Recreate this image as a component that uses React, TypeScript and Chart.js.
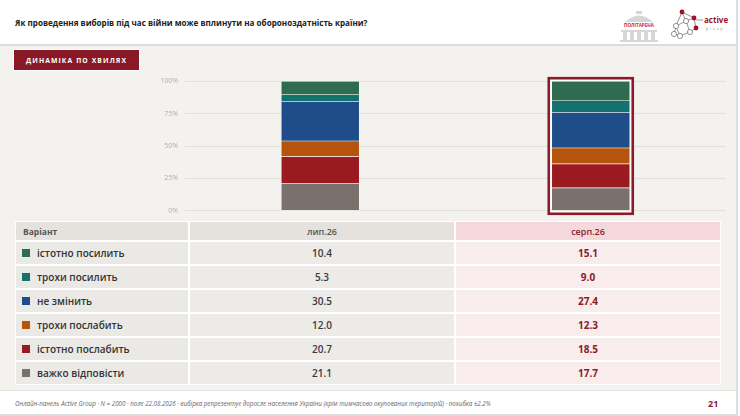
import { useEffect, useRef } from "react";
import { Chart, registerables, type Plugin } from "chart.js";

Chart.register(...registerables);

// Waves (columns) and answer options (rows)
const WAVES = ["лип.26", "серп.26"];
const OPTIONS = [
  "істотно посилить",
  "трохи посилить",
  "не змінить",
  "трохи послабить",
  "істотно послабить",
  "важко відповісти",
];
const JUL_26 = [10.4, 5.3, 30.5, 12.0, 20.7, 21.1];
const AUG_26 = [15.1, 9.0, 27.4, 12.3, 18.5, 17.7];
const OPTION_COLORS = ["#2e6b4f", "#137270", "#1f4d8a", "#b4540d", "#9a1a1f", "#7a716c"];
const Y_TICKS = [0, 25, 50, 75, 100];
const HIGHLIGHT_WAVE = 1;

const WINE = "#8b1a2b";
const FONT = "'Open Sans', 'DejaVu Sans', sans-serif";

function StackChart() {
  const canvasRef = useRef<HTMLCanvasElement>(null);

  useEffect(() => {
    const ctx = canvasRef.current?.getContext("2d");
    if (!ctx) return;

    // bottom of the stack is the last option
    const order = OPTIONS.map((_, i) => i).reverse();
    const datasets = order.map(i => ({
      label: OPTIONS[i],
      data: [JUL_26[i], AUG_26[i]],
      backgroundColor: OPTION_COLORS[i],
      borderColor: "rgba(255,255,255,0.45)",
      borderWidth: 0.6,
      borderSkipped: false as const,
      barThickness: 78,
    }));

    // frame around the current wave
    const highlight: Plugin<"bar"> = {
      id: "highlight",
      afterDatasetsDraw(chart) {
        const { ctx, scales } = chart;
        const bar = chart.getDatasetMeta(0).data[HIGHLIGHT_WAVE] as any;
        if (!bar) return;
        const half = bar.width / 2;
        const top = scales.y.getPixelForValue(100);
        const bottom = scales.y.getPixelForValue(0);
        ctx.save();
        ctx.strokeStyle = "#ffffff";
        ctx.lineWidth = 1.5;
        ctx.strokeRect(bar.x - half - 1, top - 1, bar.width + 2, bottom - top + 2);
        ctx.strokeStyle = WINE;
        ctx.lineWidth = 2.6;
        ctx.strokeRect(bar.x - half - 3, top - 3, bar.width + 6, bottom - top + 6);
        ctx.restore();
      },
    };

    const chart = new Chart(ctx, {
      type: "bar",
      data: { labels: WAVES, datasets },
      options: {
        responsive: false,
        animation: false,
        layout: { padding: { top: 9, right: 14, bottom: 6, left: 0 } },
        scales: {
          x: { stacked: true, display: false },
          y: {
            stacked: true,
            min: 0,
            max: 100,
            afterFit: s => { s.width = 45; },
            afterBuildTicks: s => { s.ticks = Y_TICKS.map(v => ({ value: v })); },
            border: { display: false },
            grid: { color: "#e3e0db", lineWidth: 1, drawTicks: false },
            ticks: {
              color: "#b3ada8",
              padding: 7,
              font: { family: "'Open Sans', sans-serif", size: 7 },
              callback: v => `${v}%`,
            },
          },
        },
        plugins: { legend: { display: false }, tooltip: { enabled: false } },
      },
      plugins: [highlight],
    });

    return () => chart.destroy();
  }, []);

  return (
    <div style={{ position: "absolute", left: 140, top: 70, width: 600, height: 152 }}>
      <canvas ref={canvasRef} width={600} height={152} style={{ width: 600, height: 152, display: "block" }} />
    </div>
  );
}

function PolitArenaLogo() {
  return (
    <svg style={{ position: "absolute", left: 615, top: 9 }} width={48} height={34} viewBox="0 0 48 34">
      <path d="M10 13 Q24 0 38 13 Z" fill="#d6d6d6" />
      <rect x="21" y="2" width="6" height="3" fill="#d6d6d6" />
      <text x="24" y="18" textAnchor="middle" fontSize="4.6" fontFamily={FONT} fontWeight={700} fill="#d3263d">ПОЛІТАРЕНА</text>
      <rect x="6" y="21" width="36" height="2" fill="#d6d6d6" />
      {[8, 15, 22, 29, 36].map(x => (
        <rect key={x} x={x} y={23} width={4} height={8} fill="#d6d6d6" />
      ))}
      <rect x="5" y="31" width="38" height="2" fill="#d6d6d6" />
    </svg>
  );
}

function ActiveLogo() {
  const nodes = [[12, 4], [6, 18], [16, 13], [24, 10], [10, 28], [20, 24], [26, 20], [4, 26]];
  const edges = [[0, 3], [0, 1], [0, 2], [1, 2], [2, 3], [2, 5], [1, 4], [4, 5], [5, 6], [3, 6], [1, 7], [7, 4]];
  const red = [0, 3, 6];
  return (
    <svg style={{ position: "absolute", left: 670, top: 8, }} width={62} height={36} viewBox="0 0 62 36">
      {edges.map(([a, b], i) => (
        <line key={i} x1={nodes[a][0]} y1={nodes[a][1]} x2={nodes[b][0]} y2={nodes[b][1]} stroke="#666" strokeWidth={0.7} />
      ))}
      {nodes.map(([x, y], i) => (
        red.includes(i)
          ? <circle key={i} cx={x} cy={y} r={2.4} fill="#9b1225" />
          : <circle key={i} cx={x} cy={y} r={2.6} fill="#fff" stroke="#666" strokeWidth={0.7} />
      ))}
      <line x1={26} y1={12} x2={33} y2={12} stroke="#666" strokeWidth={0.7} />
      <text x="34" y="15" fontSize="8" fontFamily={FONT} fontWeight={700} fill="#9b1225">active</text>
      <text x="36" y="22" fontSize="3.4" letterSpacing="1.8" fontFamily={FONT} fill="#888">group</text>
    </svg>
  );
}

function WaveTable() {
  const cell = (bg: string, extra: React.CSSProperties = {}): React.CSSProperties => ({
    background: bg,
    display: "flex",
    alignItems: "center",
    justifyContent: "center",
    fontFamily: FONT,
    ...extra,
  });
  return (
    <div
      style={{
        position: "absolute", left: 15, top: 221, width: 706, height: 164,
        boxSizing: "border-box", padding: 1, background: "#ffffff",
        display: "grid", gridTemplateColumns: "172px 264px 264px",
        gridTemplateRows: "18px repeat(6, 22px)", gap: 2,
      }}
    >
      <div style={cell("#e5e2de", { justifyContent: "flex-start", paddingLeft: 7, fontSize: 8.5, fontWeight: 700, color: "#555" })}>Варіант</div>
      <div style={cell("#e5e2de", { fontSize: 9, fontWeight: 600, color: "#555" })}>{WAVES[0]}</div>
      <div style={cell("#f5d8dc", { fontSize: 9, fontWeight: 600, color: WINE })}>{WAVES[1]}</div>
      {OPTIONS.map((label, i) => [
        <div key={`l${i}`} style={cell("#ebe9e5", { justifyContent: "flex-start", paddingLeft: 6, fontSize: 10, fontWeight: 600, color: "#333" })}>
          <span style={{ width: 8, height: 8, background: OPTION_COLORS[i], marginRight: 7, display: "inline-block" }} />
          {label}
        </div>,
        <div key={`a${i}`} style={cell("#ecebe7", { fontSize: 10, fontWeight: 600, color: "#3a3a3a" })}>{JUL_26[i].toFixed(1)}</div>,
        <div key={`b${i}`} style={cell("#f9eced", { fontSize: 10, fontWeight: 700, color: WINE })}>{AUG_26[i].toFixed(1)}</div>,
      ])}
    </div>
  );
}

export default function App() {
  return (
    <div style={{ position: "fixed", left: 0, top: 0, width: 740, height: 416, background: "#ffffff", overflow: "hidden", fontFamily: FONT }}>
      {/* header */}
      <div style={{ position: "absolute", left: 15, top: 17, fontSize: 8.1, fontWeight: 700, color: "#222", whiteSpace: "nowrap" }}>
        Як проведення виборів під час війни може вплинути на обороноздатність країни?
      </div>
      <PolitArenaLogo />
      <ActiveLogo />
      <div style={{ position: "absolute", left: 0, top: 44, width: 737, height: 1.5, background: "#dcdcdc" }} />

      {/* body */}
      <div style={{ position: "absolute", left: 0, top: 45.5, width: 736, height: 344, background: "#f4f2ee" }} />
      <div
        style={{
          position: "absolute", left: 14, top: 50, width: 125, height: 20, background: "#8a1928",
          color: "#fff", fontSize: 6.8, fontWeight: 700, letterSpacing: 1.1,
          display: "flex", alignItems: "center", justifyContent: "center",
          boxShadow: "0 0 0 1px #fff",
        }}
      >
        ДИНАМІКА ПО ХВИЛЯХ
      </div>
      <StackChart />
      <WaveTable />

      {/* footer */}
      <div style={{ position: "absolute", left: 0, top: 389.5, width: 737, height: 1.5, background: "#e4e2de" }} />
      <div style={{ position: "absolute", left: 15, top: 398.5, fontSize: 6.2, fontStyle: "italic", color: "#666", whiteSpace: "nowrap" }}>
        Онлайн-панель Active Group · N = 2000 · поле 22.08.2026 · вибірка репрезентує доросле населення України (крім тимчасово окупованих територій) · похибка ±2.2%
      </div>
      <div style={{ position: "absolute", left: 708, top: 397, fontSize: 9, fontWeight: 700, color: WINE }}>21</div>
      <div style={{ position: "absolute", left: 0, top: 414, width: 737, height: 1.5, background: "#dcdcdc" }} />
      <div style={{ position: "absolute", left: 736, top: 0, width: 1.5, height: 416, background: "#dddddd" }} />
    </div>
  );
}
